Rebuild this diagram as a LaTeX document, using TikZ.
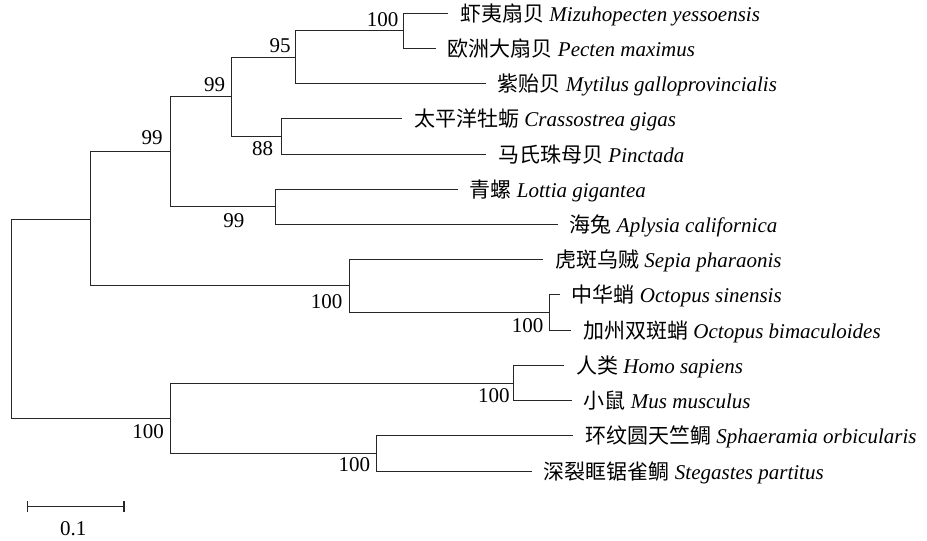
\documentclass[tikz,border=0pt]{standalone}
\usepackage{fontspec}
\setmainfont{Liberation Serif}
\newfontfamily\cjk{Noto Sans CJK SC}
\usepackage{tikz}
\usetikzlibrary{arrows.meta}

\begin{document}
\begin{tikzpicture}[x=1pt, y=-1pt, font=\fontsize{21}{25}\selectfont,
  branch/.style={draw=black!85, line width=1.1pt},
  taxon/.style={anchor=west, inner xsep=12pt, inner ysep=0pt, text height=18pt, text depth=2pt},
  bs/.style={inner sep=0pt}]
  \useasboundingbox (0,0) rectangle (927,541);

  % internal nodes
  \coordinate (root) at (11.5,318.5);
  \coordinate (A) at (90.5,219.5);
  \coordinate (B) at (170.5,151.5);
  \coordinate (C) at (231.5,96.5);
  \coordinate (D) at (295.5,57.5);
  \coordinate (E) at (403.5,30.5);
  \coordinate (F) at (281.5,136.5);
  \coordinate (G) at (275.5,206.5);
  \coordinate (H) at (349.5,285.5);
  \coordinate (I) at (549.5,312.5);
  \coordinate (J) at (170.5,418.5);
  \coordinate (K) at (513.5,383.5);
  \coordinate (L) at (376.5,453.5);

  % taxa
  \node[taxon] (mizu) at (448,13.5) {{\cjk 虾夷扇贝} \textit{Mizuhopecten yessoensis}};
  \node[taxon] (pecten) at (435.5,48.5) {{\cjk 欧洲大扇贝} \textit{Pecten maximus}};
  \node[taxon] (mytilus) at (485.5,83.5) {{\cjk 紫贻贝} \textit{Mytilus galloprovincialis}};
  \node[taxon] (crasso) at (402,118.5) {{\cjk 太平洋牡蛎} \textit{Crassostrea gigas}};
  \node[taxon] (pinctada) at (486,154.5) {{\cjk 马氏珠母贝} \textit{Pinctada}};
  \node[taxon] (lottia) at (457.5,189.5) {{\cjk 青螺} \textit{Lottia gigantea}};
  \node[taxon] (aplysia) at (557.5,224.5) {{\cjk 海兔} \textit{Aplysia californica}};
  \node[taxon] (sepia) at (543,259.5) {{\cjk 虎斑乌贼} \textit{Sepia pharaonis}};
  \node[taxon] (octsin) at (559.5,294.5) {{\cjk 中华蛸} \textit{Octopus sinensis}};
  \node[taxon] (octbim) at (571,330.5) {{\cjk 加州双斑蛸} \textit{Octopus bimaculoides}};
  \node[taxon] (homo) at (564,365.5) {{\cjk 人类} \textit{Homo sapiens}};
  \node[taxon] (mus) at (571.5,400.5) {{\cjk 小鼠} \textit{Mus musculus}};
  \node[taxon] (sphaer) at (573,435.5) {{\cjk 环纹圆天竺鲷} \textit{Sphaeramia orbicularis}};
  \node[taxon] (steg) at (531.5,471.5) {{\cjk 深裂眶锯雀鲷} \textit{Stegastes partitus}};

  % branches
  \draw[branch] (root) |- (A);
  \draw[branch] (root) |- (J);
  \draw[branch] (A) |- (B);
  \draw[branch] (A) |- (H);
  \draw[branch] (B) |- (C);
  \draw[branch] (B) |- (G);
  \draw[branch] (C) |- (D);
  \draw[branch] (C) |- (F);
  \draw[branch] (D) |- (E);
  \draw[branch] (D) |- (mytilus.west);
  \draw[branch] (E) |- (mizu.west);
  \draw[branch] (E) |- (pecten.west);
  \draw[branch] (F) |- (crasso.west);
  \draw[branch] (F) |- (pinctada.west);
  \draw[branch] (G) |- (lottia.west);
  \draw[branch] (G) |- (aplysia.west);
  \draw[branch] (H) |- (sepia.west);
  \draw[branch] (H) |- (I);
  \draw[branch] (I) |- (octsin.west);
  \draw[branch] (I) |- (octbim.west);
  \draw[branch] (J) |- (K);
  \draw[branch] (J) |- (L);
  \draw[branch] (K) |- (homo.west);
  \draw[branch] (K) |- (mus.west);
  \draw[branch] (L) |- (sphaer.west);
  \draw[branch] (L) |- (steg.west);

  % bootstrap values
  \node[bs] (bsE) at (382.5,19.3) {100};
  \node[bs] (bsD) at (280,45.5) {95};
  \node[bs] (bsC) at (214.5,84.5) {99};
  \node[bs] (bsB) at (152.2,137.5) {99};
  \node[bs] (bsF) at (262.5,148.8) {88};
  \node[bs] (bsG) at (233.8,220.8) {99};
  \node[bs] (bsH) at (326.7,301.5) {100};
  \node[bs] (bsI) at (527.7,325.3) {100};
  \node[bs] (bsJ) at (148,432) {100};
  \node[bs] (bsK) at (493.8,395.5) {100};
  \node[bs] (bsL) at (354.3,464.8) {100};

  % scale bar
  \coordinate (sbL) at (26.5,506.5);
  \coordinate (sbR) at (124.5,506.5);
  \draw[branch, {Bar[width=11.6pt]}-{Bar[width=11.6pt]}] (sbL) -- (sbR);
  \node[bs] (sbtext) at (73.3,529) {0.1};
\end{tikzpicture}
\end{document}
